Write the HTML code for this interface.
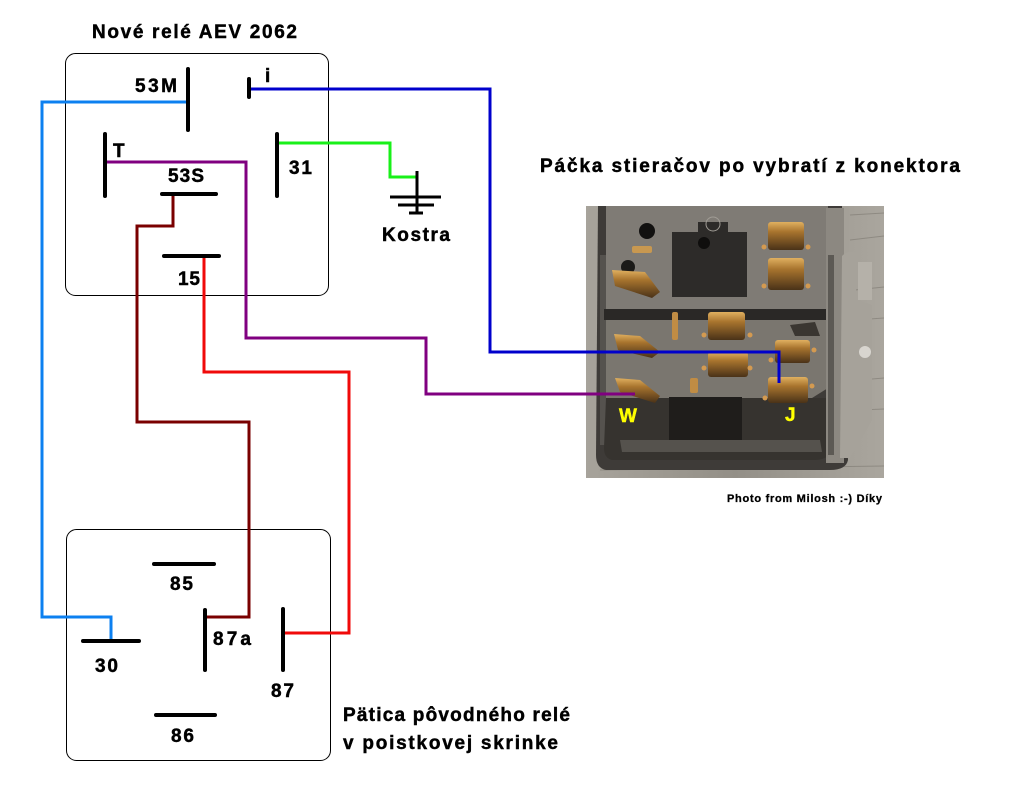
<!DOCTYPE html>
<html><head><meta charset="utf-8"><style>
html,body{margin:0;padding:0;background:#fff;}
svg{display:block;}
text{font-family:"Liberation Sans",Arial,sans-serif;font-weight:bold;fill:#000;stroke:#000;stroke-width:0.45px;}
</style></head><body>
<svg width="1025" height="800" viewBox="0 0 1025 800" xmlns="http://www.w3.org/2000/svg">
<rect width="1025" height="800" fill="#fff"/>

<!-- Photo -->
<defs>
<linearGradient id="gold" x1="0" y1="0" x2="0" y2="1">
<stop offset="0" stop-color="#e0b060"/><stop offset="0.35" stop-color="#a8742e"/><stop offset="1" stop-color="#4a3218"/>
</linearGradient>
<linearGradient id="wood" x1="0" y1="0" x2="1" y2="0">
<stop offset="0" stop-color="#a7a39b"/><stop offset="0.5" stop-color="#938f87"/><stop offset="1" stop-color="#aaa69e"/>
</linearGradient>
<clipPath id="pc"><rect x="586" y="206" width="298" height="272"/></clipPath>
</defs>
<g clip-path="url(#pc)">
<rect x="586" y="206" width="298" height="272" fill="url(#wood)"/>
<g stroke="#7d7971" stroke-width="1" opacity="0.6">
<line x1="850" y1="215" x2="884" y2="213"/><line x1="850" y1="240" x2="884" y2="236"/>
<line x1="855" y1="290" x2="884" y2="287"/><line x1="855" y1="320" x2="884" y2="318"/>
<line x1="860" y1="380" x2="884" y2="378"/><line x1="860" y1="410" x2="884" y2="409"/>
<line x1="600" y1="470" x2="884" y2="466"/>
</g>
<path d="M598 206 H842 L848 460 Q846 470 830 470 H606 Q596 468 596 455 Z" fill="#3e3b38"/>
<path d="M606 206 H828 V309 H606 Z" fill="#7f7b75"/>
<rect x="600" y="255" width="6" height="190" fill="#55524e"/>
<rect x="604" y="309" width="228" height="11" fill="#2a2826"/>
<path d="M606 320 H828 V388 L812 398 H606 Z" fill="#7a766f"/>
<path d="M606 398 H826 L836 445 Q830 460 815 460 H612 Q604 458 604 448 Z" fill="#36332f"/>
<path d="M620 440 H820 L822 452 H622 Z" fill="#55524d"/>
<rect x="669" y="397" width="73" height="43" fill="#1f1d1b"/>
<rect x="826" y="208" width="18" height="255" fill="#8c8881"/>
<rect x="828" y="255" width="6" height="200" fill="#5c5954"/>
<path d="M842 256 Q848 250 856 252 V300 L872 305 V420 L850 458 H840 Z" fill="#a6a29a"/>
<path d="M858 262 H872 V300 H858 Z" fill="#b5b1a9"/>
<circle cx="865" cy="352" r="6" fill="#d8d5cf"/>
<path d="M672 232 H698 V222 H728 V232 H747 V297 H672 Z" fill="#2d2b29"/>
<circle cx="704" cy="243" r="6" fill="#0f0e0d"/>
<circle cx="713" cy="224" r="7" fill="none" stroke="#a09c95" stroke-width="1"/>
<circle cx="647" cy="231" r="8" fill="#121110"/>
<circle cx="628" cy="267" r="7" fill="#1b1a18"/>
<rect x="768" y="222" width="36" height="28" rx="3" fill="url(#gold)"/>
<rect x="768" y="258" width="36" height="32" rx="3" fill="url(#gold)"/>
<polygon points="612,270 645,272 660,292 652,298 615,286" fill="url(#gold)"/>
<rect x="632" y="246" width="20" height="7" rx="2" fill="#c89850"/>
<rect x="708" y="312" width="37" height="28" rx="3" fill="url(#gold)"/>
<rect x="708" y="352" width="40" height="25" rx="3" fill="url(#gold)"/>
<rect x="775" y="340" width="35" height="23" rx="3" fill="url(#gold)"/>
<rect x="768" y="377" width="40" height="26" rx="3" fill="url(#gold)"/>
<polygon points="615,378 640,380 660,396 655,403 620,392" fill="url(#gold)"/>
<polygon points="614,334 640,336 660,352 652,358 618,350" fill="url(#gold)"/>
<rect x="672" y="312" width="6" height="28" rx="2" fill="#c08c44"/>
<rect x="690" y="378" width="8" height="15" rx="2" fill="#c08c44"/>
<polygon points="790,325 815,322 820,336 795,336" fill="#3a3631"/>
<g fill="#d49a50">
<circle cx="764" cy="247" r="2.5"/><circle cx="808" cy="247" r="2.5"/>
<circle cx="764" cy="286" r="2.5"/><circle cx="808" cy="286" r="2.5"/>
<circle cx="704" cy="335" r="2.5"/><circle cx="750" cy="335" r="2.5"/>
<circle cx="704" cy="368" r="2.5"/><circle cx="750" cy="368" r="2.5"/>
<circle cx="771" cy="360" r="2.5"/><circle cx="814" cy="350" r="2.5"/>
<circle cx="765" cy="398" r="2.5"/><circle cx="812" cy="386" r="2.5"/>
</g>
</g>

<!-- Boxes -->
<rect x="65.5" y="53.5" width="263" height="242" rx="10" fill="none" stroke="#000" stroke-width="1"/>
<rect x="66.5" y="529.5" width="264" height="231" rx="10" fill="none" stroke="#000" stroke-width="1"/>

<!-- Wires -->
<g fill="none" stroke-width="3" stroke-linejoin="miter">
<path d="M188 102 H42 V617 H111 V641" stroke="#0c80f0"/>
<path d="M249 89 H490 V352 H779 V383" stroke="#0000cc"/>
<path d="M105 162 H246 V338 H426 V394 H635" stroke="#800080"/>
<path d="M277 143 H390 V177 H417" stroke="#19f019"/>
<path d="M173 194 V226 H137 V422 H249 V617 H205" stroke="#7a0000"/>
<path d="M204 256 V372 H349 V633 H283" stroke="#f00a0a"/>
</g>

<!-- Terminal bars -->
<g stroke="#000" stroke-width="4" stroke-linecap="round" fill="none">
<line x1="188" y1="69" x2="188" y2="130"/>
<line x1="249" y1="79" x2="249" y2="97"/>
<line x1="105" y1="134" x2="105" y2="196"/>
<line x1="277" y1="134" x2="277" y2="196"/>
<line x1="162" y1="194" x2="216" y2="194"/>
<line x1="164" y1="256" x2="219" y2="256"/>
<line x1="154" y1="564" x2="214" y2="564"/>
<line x1="83" y1="641" x2="139" y2="641"/>
<line x1="205" y1="610" x2="205" y2="670"/>
<line x1="283" y1="609" x2="283" y2="670"/>
<line x1="156" y1="715" x2="215" y2="715"/>
</g>

<!-- Ground -->
<g stroke="#000" stroke-width="3">
<line x1="417" y1="171" x2="417" y2="213"/>
<line x1="390" y1="197" x2="441" y2="197"/>
<line x1="398" y1="205" x2="434" y2="205"/>
<line x1="409" y1="213" x2="423" y2="213"/>
</g>

<!-- Labels -->
<text x="92" y="38" font-size="19" textLength="205" lengthAdjust="spacing">Nové relé AEV 2062</text>
<text x="135" y="92" font-size="19" textLength="42" lengthAdjust="spacing">53M</text>
<text x="265" y="82" font-size="19">i</text>
<text x="113" y="157" font-size="19">T</text>
<text x="289" y="174" font-size="19" textLength="23" lengthAdjust="spacing">31</text>
<text x="168" y="182" font-size="19" textLength="36" lengthAdjust="spacing">53S</text>
<text x="178" y="285" font-size="19" textLength="22" lengthAdjust="spacing">15</text>
<text x="382" y="241" font-size="19" textLength="68" lengthAdjust="spacing">Kostra</text>
<text x="540" y="172" font-size="19" textLength="420" lengthAdjust="spacing">Páčka stieračov po vybratí z konektora</text>
<text x="619" y="422" font-size="19" style="fill:#ffff00;stroke:#ffff00" textLength="18" lengthAdjust="spacing">W</text>
<text x="785" y="421" font-size="19" style="fill:#ffff00;stroke:#ffff00">J</text>
<text x="727" y="502" font-size="11" style="stroke-width:0.3px" textLength="155" lengthAdjust="spacing">Photo from Milosh :-) Díky</text>
<text x="170" y="590" font-size="19" textLength="23" lengthAdjust="spacing">85</text>
<text x="95" y="672" font-size="19" textLength="23" lengthAdjust="spacing">30</text>
<text x="213" y="645" font-size="19" textLength="38" lengthAdjust="spacing">87a</text>
<text x="271" y="697" font-size="19" textLength="23" lengthAdjust="spacing">87</text>
<text x="171" y="742" font-size="19" textLength="23" lengthAdjust="spacing">86</text>
<text x="343" y="721" font-size="19" textLength="227" lengthAdjust="spacing">Pätica pôvodného relé</text>
<text x="343" y="749" font-size="19" textLength="215" lengthAdjust="spacing">v poistkovej skrinke</text>
</svg>
</body></html>
